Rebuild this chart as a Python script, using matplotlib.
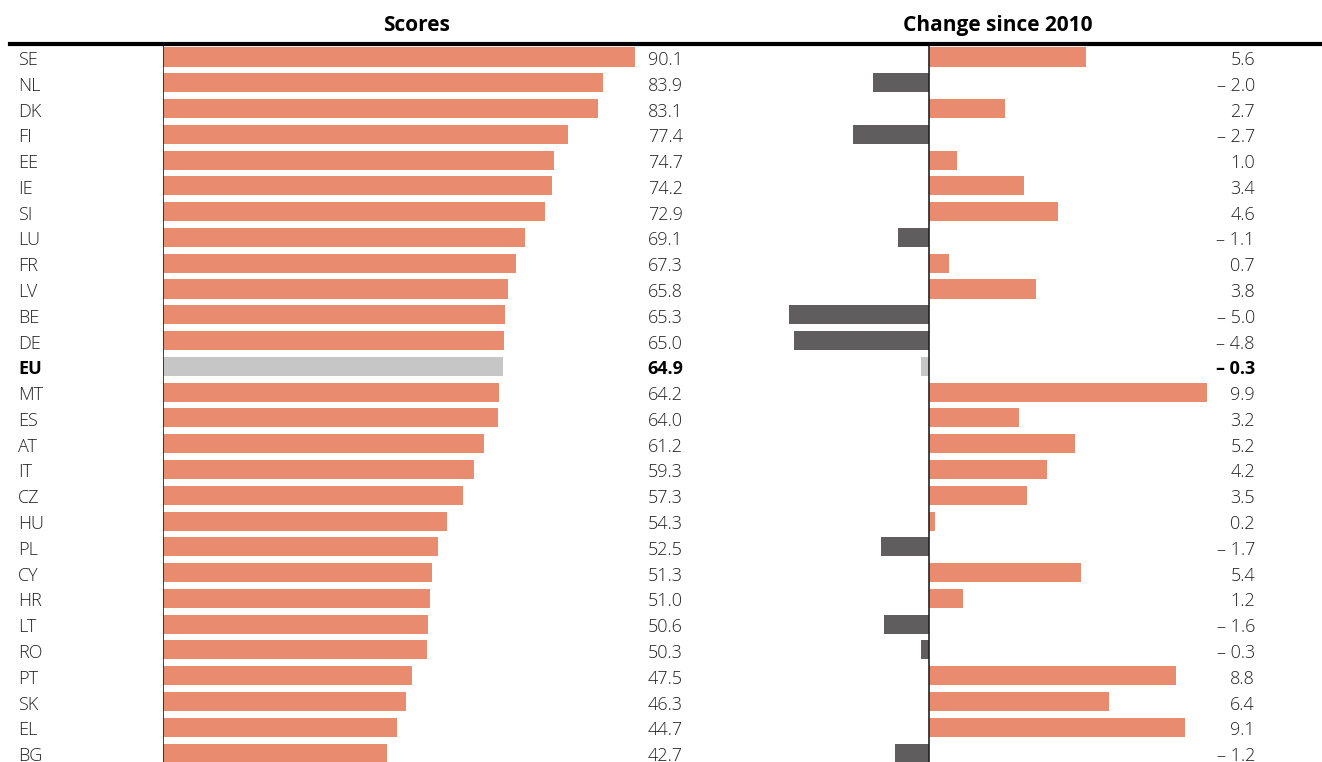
import matplotlib
matplotlib.use("Agg")
import matplotlib.pyplot as plt
import matplotlib.transforms as mtransforms

plt.rcParams['font.family'] = ['Open Sans', 'DejaVu Sans']

countries = ["SE", "NL", "DK", "FI", "EE", "IE", "SI", "LU", "FR", "LV", "BE", "DE", "EU",
             "MT", "ES", "AT", "IT", "CZ", "HU", "PL", "CY", "HR", "LT", "RO", "PT", "SK",
             "EL", "BG"]
scores = [90.1, 83.9, 83.1, 77.4, 74.7, 74.2, 72.9, 69.1, 67.3, 65.8, 65.3, 65.0, 64.9,
          64.2, 64.0, 61.2, 59.3, 57.3, 54.3, 52.5, 51.3, 51.0, 50.6, 50.3, 47.5, 46.3,
          44.7, 42.7]
change = [5.6, -2.0, 2.7, -2.7, 1.0, 3.4, 4.6, -1.1, 0.7, 3.8, -5.0, -4.8, -0.3,
          9.9, 3.2, 5.2, 4.2, 3.5, 0.2, -1.7, 5.4, 1.2, -1.6, -0.3, 8.8, 6.4,
          9.1, -1.2]

SALMON = "#E98B6F"
DARK = "#5F5D5E"
EU_GREY = "#C6C6C6"
TEXT = "#222222"

W, H = 1322, 762
fig = plt.figure(figsize=(W / 100, H / 100), dpi=100)

top_px = 45
row0_px, pitch = 57, 25.78
y_top = (top_px - row0_px) / pitch
y_bot = (H - row0_px) / pitch
ax_h = (H - top_px) / H

# left panel: zero at x=163, 5.239 px per unit
s1 = 5.239
ax1 = fig.add_axes([163 / W, 0, 540 / W, ax_h])
ax1.set_xlim(0, 540 / s1)
# right panel: zero at x=929, 28.08 px per unit
s2 = 28.08
ax2_left = 760
ax2 = fig.add_axes([ax2_left / W, 0, 520 / W, ax_h])
ax2.set_xlim(-(929 - ax2_left) / s2, (520 - (929 - ax2_left)) / s2)

for ax in (ax1, ax2):
    ax.set_ylim(y_bot, y_top)
    ax.axis("off")

ypos = list(range(len(countries)))
c1 = [EU_GREY if c == "EU" else SALMON for c in countries]
c2 = [EU_GREY if c == "EU" else (SALMON if v >= 0 else DARK) for c, v in zip(countries, change)]
ax1.barh(ypos, scores, height=0.74, color=c1)
ax2.barh(ypos, change, height=0.74, color=c2)
ax1.axvline(0, color="#222222", lw=1.2)
ax2.axvline(0, color="#222222", lw=1.2)

# labels sit on a baseline ~8px below the row centre
base = 8 / pitch
tr1 = mtransforms.blended_transform_factory(fig.transFigure, ax1.transData)
for y, c, s, v in zip(ypos, countries, scores, change):
    w = "bold" if c == "EU" else "light"
    col = "black" if c == "EU" else TEXT
    kw = dict(transform=tr1, va="baseline", fontsize=13, fontweight=w, color=col)
    ax1.text(18 / W, y + base, c, ha="left", **kw)
    ax1.text(683 / W, y + base, f"{s:.1f}", ha="right", **kw)
    lab = f"{v:.1f}" if v >= 0 else f"\u2013 {abs(v):.1f}"
    ax1.text(1255 / W, y + base, lab, ha="right", **kw)

# header
fig.add_artist(plt.Line2D([10 / W, 1], [1 - 43.5 / H, 1 - 43.5 / H], color="black", lw=3,
                          transform=fig.transFigure))
fig.text(416 / W, 1 - 31 / H, "Scores", ha="center", va="baseline", fontsize=15,
         fontweight="bold")
fig.text(998 / W, 1 - 31 / H, "Change since 2010", ha="center", va="baseline",
         fontsize=15, fontweight="bold")

fig.savefig("out.png", dpi=100)
